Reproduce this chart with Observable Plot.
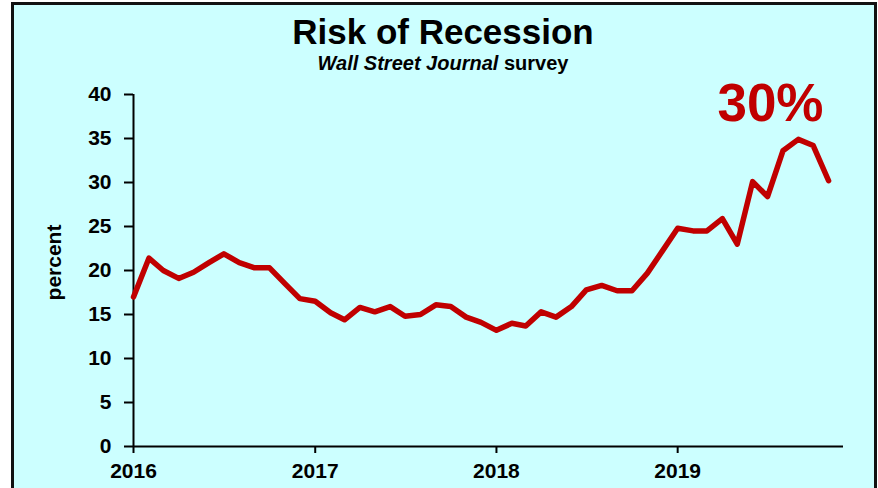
<!DOCTYPE html>
<html>
<head>
<meta charset="utf-8">
<script src="https://cdn.jsdelivr.net/npm/d3@7"></script>
<script src="https://cdn.jsdelivr.net/npm/@observablehq/plot@0.6"></script>
<style>
  html, body { margin: 0; padding: 0; background: #ffffff; }
  #wrap { position: relative; width: 878px; height: 488px; overflow: hidden; font-family: "Liberation Sans", Arial, sans-serif; }
  #box { position: absolute; left: 11px; top: 2px; width: 860px; height: 500px; background: #ccffff; border: 3px solid #111; }
  .ttl { position: absolute; left: 0; width: 886px; text-align: center; font-weight: bold; color: #000; white-space: nowrap; }
  #title { top: 12px; font-size: 35px; line-height: 40px; }
  #subtitle { top: 52px; font-size: 20px; line-height: 22px; }
  #chart { position: absolute; left: 0; top: 0; }
  #chart svg text { font-weight: bold; }
</style>
</head>
<body>
<div id="wrap">
  <div id="box"></div>
  <div id="title" class="ttl">Risk of Recession</div>
  <div id="subtitle" class="ttl"><i>Wall Street Journal</i> survey</div>
  <div id="chart"></div>
</div>
<script>
// Data: WSJ survey, probability of recession (percent), monthly from Jan 2016
const startMonth = "2016-01";
const values = [
  17.0, 21.4, 20.0, 19.1, 19.8, 20.9, 21.9, 20.9, 20.3, 20.3, 18.5, 16.8,
  16.5, 15.2, 14.4, 15.8, 15.3, 15.9, 14.8, 15.0, 16.1, 15.9, 14.7, 14.1,
  13.2, 14.0, 13.7, 15.3, 14.7, 15.9, 17.8, 18.3, 17.7, 17.7, 19.7, 22.2,
  24.8, 24.5, 24.5, 25.9, 23.0, 30.1, 28.4, 33.6, 34.9, 34.2, 30.2
];
const yearTicks = ["2016", "2017", "2018", "2019"];
const yTicks = [0, 5, 10, 15, 20, 25, 30, 35, 40];
const yLabel = "percent";
const annotation = ["30%"];
const xDomain = ["2016-01", "2019-12"];

const parse = d3.utcParse("%Y-%m");
const start = parse(startMonth);
const data = values.map((v, i) => ({date: d3.utcMonth.offset(start, i), value: v}));

const red = "#c00000";
const chart = Plot.plot({
  width: 878,
  height: 488,
  marginTop: 94,
  marginLeft: 133,
  marginRight: 35,
  marginBottom: 42,
  style: {background: "transparent", fontFamily: "'Liberation Sans', Arial, sans-serif", color: "#000", overflow: "visible"},
  x: {type: "utc", domain: xDomain.map(parse)},
  y: {domain: [0, 40]},
  marks: [
    Plot.axisY({ticks: yTicks, tickSize: 9, tickPadding: 13, fontSize: 21, fontWeight: "bold", strokeWidth: 2, label: null}),
    Plot.axisX({ticks: yearTicks.map(d3.utcParse("%Y")), tickFormat: "%Y", tickSize: 7, tickPadding: 10, fontSize: 21, fontWeight: "bold", strokeWidth: 2, label: null}),
    Plot.ruleX([start], {y1: 0, y2: 40, stroke: "#000", strokeWidth: 2}),
    Plot.ruleY([0], {stroke: "#000", strokeWidth: 2}),
    Plot.line(data, {x: "date", y: "value", stroke: red, strokeWidth: 5.5, strokeLinejoin: "round", strokeLinecap: "round"}),
    Plot.text([yLabel], {text: d => d, frameAnchor: "left", textAnchor: "middle", lineAnchor: "middle", rotate: -90, dx: -79, dy: -8, fontSize: 21, fontWeight: "bold", fill: "#000"}),
    Plot.text(annotation, {text: d => d, frameAnchor: "top-right", textAnchor: "end", lineAnchor: "bottom", dx: -20, dy: 26, fontSize: 53, fontWeight: "bold", fill: red})
  ]
});
document.getElementById("chart").appendChild(chart);
</script>
</body>
</html>
